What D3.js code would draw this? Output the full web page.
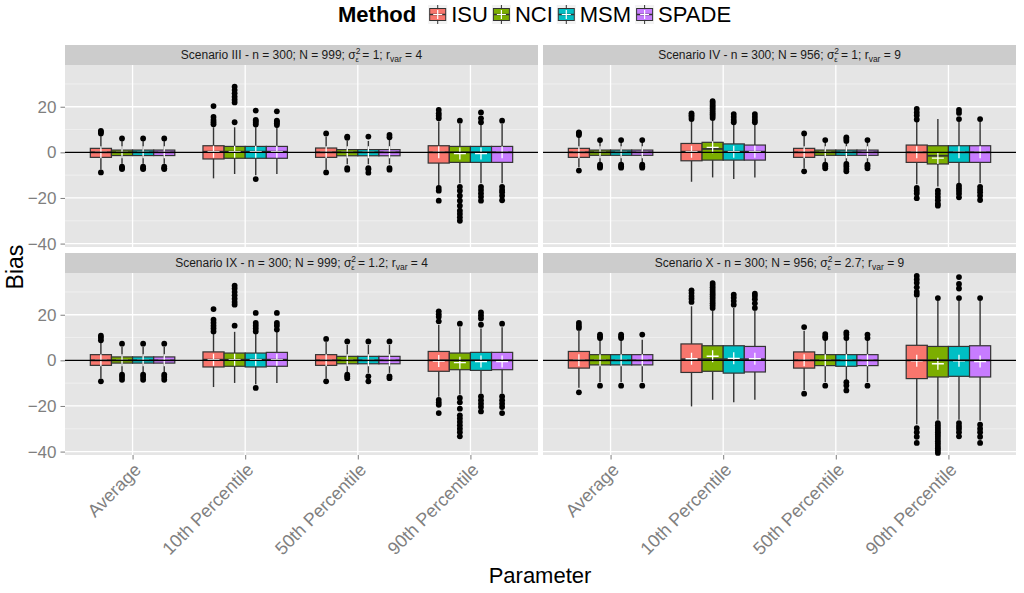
<!DOCTYPE html>
<html>
<head>
<meta charset="utf-8">
<script src="https://cdn.jsdelivr.net/npm/d3@7"></script>
<style>
body { margin: 0; background: #fff; }
text { font-family: "Liberation Sans", Arial, sans-serif; }
</style>
</head>
<body>
<svg id="chart"></svg>
<script>
/* categories */
var params = ["Average", "10th Percentile", "50th Percentile", "90th Percentile"];
var methods = ["ISU", "NCI", "MSM", "SPADE"];
var colors = ["#F8766D", "#7CAE00", "#00BFC4", "#C77CFF"];

/* strip labels */
var scenNames = ["III", "IV", "IX", "X"];
var scenN = ["999", "956", "999", "956"];
var scenSigma = ["1", "1", "1.2", "2.7"];
var scenR = ["4", "9", "4", "9"];

var yTicks = [-40, -20, 0, 20];
var yMinor = [-30, -10, 10, 30];

/* box stats, rows = param x method: [lo, q1, med, q3, hi, mean] */
var boxIII = [
  [-7.5, -2.2, 0, 1.75, 7.5, 0], [-5, -1.4, 0, 1.0, 5, 0], [-5, -1.4, 0, 1.0, 5, 0], [-5, -1.4, 0, 1.0, 5, 0],
  [-11.4, -2.9, 0.3, 2.9, 11, 0.3], [-9.5, -2.6, 0.3, 2.6, 11, 0.3], [-10, -2.6, 0.3, 2.6, 11, 0.3], [-9.5, -2.6, 0.3, 2.6, 11, 0.3],
  [-7.5, -2.2, 0, 1.9, 7, 0], [-5.2, -1.5, 0, 1.2, 5, 0], [-5.2, -1.5, 0, 1.2, 5, 0], [-5.2, -1.5, 0, 1.2, 5.5, 0],
  [-14.5, -4.7, 0, 2.9, 13.5, 0], [-13.5, -4.4, 0, 2.6, 12.5, -0.5], [-13.5, -4.4, 0, 2.6, 12.5, -0.5], [-13.5, -4.4, 0, 2.6, 12.5, 0]
];
var outIII = [
  [8.3, 9.0, 9.4, -8.8], [6.1, -6.3, -6.9, -7.3], [6.1, -6.3, -7.0, -7.3], [6.1, -6.3, -7.0, -7.3],
  [12.3, 13.2, 14.2, 15.5, 20.3], [13.2, 21.9, 23.1, 24.4, 25.9, 27.3, 28.8], [-11.7, 12.2, 13.0, 13.8, 14.2, 18.3], [12.0, 12.8, 13.5, 13.9, 18.0],
  [8.3, -8.8], [6.4, 6.9, -6.9, -7.6], [6.9, -6.9, -7.4, -8.9], [6.6, 7.6, -6.9, -7.6],
  [14.9, 16.1, 17.1, 18.6, -15.6, -16.8, -21.2], [13.9, -15.1, -16.8, -19, -21.2, -23.4, -25.6, -27, -28.5, -30],
  [13.2, 14.9, 17.5, -15.1, -16.5, -18, -19.5, -21.2], [13.9, -15.1, -16.5, -17.5, -19, -21]
];

var boxIV = [
  [-6.5, -2.2, 0, 1.75, 7, 0], [-4.5, -1.3, 0, 1.0, 4.5, 0], [-4.5, -1.3, 0, 1.0, 4.5, 0], [-4.5, -1.3, 0, 1.0, 4.5, 0],
  [-12.9, -3.7, 0.3, 3.9, 13.5, 0.3], [-11, -3.4, 1.5, 4.4, 14.5, 2.2], [-11.7, -3.4, 0.3, 3.7, 12.5, 0.3], [-11, -3.4, 0.3, 3.2, 12.5, 0.3],
  [-7, -2.2, 0, 1.75, 7.3, 0], [-4.5, -1.3, 0, 1.0, 4.5, 0], [-4.5, -1.3, 0, 1.0, 4.5, 0], [-4.5, -1.3, 0, 1.0, 4.5, 0],
  [-14, -4.4, 0, 3.2, 13.5, 0], [-15, -5.1, -1.5, 2.9, 14.6, -2.5], [-13.5, -4.4, 0, 2.9, 13.5, 0], [-13.5, -4.4, 0, 2.9, 13.5, 0]
];
var outIV = [
  [7.6, 8.3, 8.8, -8.0], [5.4, -5.4, -6.1, -6.7], [5.4, -5.4, -6.1, -6.7], [5.4, -5.4, -6.1, -6.7],
  [14.6, 15.5, 16.3, 17.1], [15.1, 15.9, 16.7, 17.5, 18.4, 19.2, 20, 20.8, 21.6, 22.4], [13.2, 14.2, 15.5, 16.8], [13.2, 14.2, 15.5, 16.8],
  [8.3, -8.3], [5.4, -5.4, -6.1, -7.0], [5.0, 5.8, 6.6, -5.1, -6.1, -7.3, -8.3], [5.4, -5.4, -6.1, -7.0],
  [14.4, 16.2, 17.5, 19, -15.6, -16.8, -18, -20.1], [-16.8, -18.2, -19.6, -21, -22.5, -23.4],
  [14.6, 17.3, 18.6, -14.6, -15.8, -17, -18.2, -19.7], [14.6, -15.1, -16.3, -17.5, -19, -20.9]
];

var boxIX = [
  [-8, -2.2, 0, 2.5, 8, 0], [-5.5, -1.2, 0, 1.5, 6, 0], [-5.5, -1.2, 0, 1.5, 6, 0], [-5.5, -1.2, 0, 1.5, 6, 0],
  [-11.7, -2.9, 0.3, 3.7, 12, 0.3], [-9.9, -2.6, 0.3, 3.2, 12.5, 0.3], [-10.5, -2.9, 0.3, 3.2, 12, 0.3], [-9.9, -2.6, 0.3, 3.5, 12.5, 0.3],
  [-8, -2.2, 0, 2.5, 8, 0], [-5.5, -1.5, 0, 1.75, 6.8, 0], [-5.5, -1.5, 0, 1.75, 6.8, 0], [-5.5, -1.5, 0, 1.75, 6.8, 0],
  [-16, -4.8, 0, 3.9, 15.5, -0.3], [-15, -4.1, 0, 3.2, 14.5, -1], [-14.5, -4.4, 0, 3.5, 14, -0.5], [-14.5, -4.1, 0, 3.5, 14.5, -0.5]
];
var outIX = [
  [8.8, 9.9, 10.8, -9.2], [7.3, -6.3, -7.3, -8.5], [7.3, -6.3, -7.3, -8.5], [7.3, -6.3, -7.3, -8.5],
  [12.7, 14, 15.2, 16.5, 17.8, 22.5], [15.2, 24.4, 25.6, 27, 28.5, 30, 31.5, 32.7], [-12.1, 12.7, 14, 15.2, 16.4, 20.8], [13.5, 15.2, 16.4, 20.8],
  [9.4, -9.2], [8.3, -6.3, -7.0, -7.8], [8.3, -7.0, -9.2], [8.3, -7.0, -7.8],
  [17.1, 19.1, 20.2, 21.5, -17.3, -18.5, -19.5, -23.1], [16.1, -16.5, -18.4, -21.2, -24.1, -25.5, -27, -28.5, -30, -31.5, -33.3],
  [15.6, 18.4, 19.7, 21, -15.8, -17.5, -19, -20.5, -22.4], [16.1, -15.8, -17.5, -19, -20.5, -23.1]
];

var boxX = [
  [-12, -3.4, 0, 3.9, 13, 0], [-9.5, -2.0, 0, 2.5, 9, 0], [-9.5, -2.0, 0, 2.5, 9, 0], [-9.5, -2.0, 0, 2.5, 9, 0],
  [-20.2, -5.3, 0.5, 7.2, 23.7, 0.7], [-17.3, -4.8, 0.5, 6.4, 22, 1.8], [-18.4, -5.6, 0.5, 6.4, 23, 0.9], [-17.3, -5.1, 0.5, 6.1, 22, 0.7],
  [-13, -3.4, 0, 3.7, 13, 0], [-9.5, -2.3, 0, 2.5, 9, 0], [-9, -2.6, 0, 2.5, 9, 0], [-9.5, -2.3, 0, 2.5, 9, 0],
  [-28, -8.0, 0, 6.6, 27.5, -0.2], [-26, -7.3, 0, 6.1, 26, -1.5], [-26, -7.0, 0, 6.1, 26, -0.2], [-26.5, -7.3, 0, 6.4, 26, -0.5]
];
var outX = [
  [14.2, 15.2, 16.4, -14], [9.8, 10.5, 11.3, -11.1], [9.8, 10.5, 11.3, -11.1], [11.3, -11.1],
  [25.6, 27, 28.2, 29.5, 30.7], [23, 24, 25, 26, 27, 28, 29, 30, 31, 32, 33, 33.9], [24.4, 26, 27.5, 28.8], [23, 25, 26.8, 28.2, 29.2],
  [14.6, -14.6], [9.8, 10.5, 11.5, -11.1], [9.8, 11.3, 12.3, -9.6, -11, -13.2], [9.8, 11.3, -11.1],
  [28.8, 30, 32, 34, 35.5, 37, -29.7, -31.5, -33.5, -36.2],
  [27.3, -27.5, -28.5, -29.5, -30.5, -31.5, -32.5, -33.5, -34.5, -35.5, -36.5, -37.5, -38.5, -39.5, -40.6],
  [27.3, 31.5, 33.5, 36.5, -27.5, -28.8, -30, -31.5, -33.3], [27.3, -28.2, -30, -31.5, -33.5, -36.2]
];

var boxes = [boxIII, boxIV, boxIX, boxX];
var outs = [outIII, outIV, outIX, outX];

/* layout */
var W = 1024, H = 593;
var pw = 473, ph = 182, stripH = 20;
var panels = [
  {s: 0, x0: 65, y0: 65, left: true, bottom: false},
  {s: 1, x0: 543, y0: 65, left: false, bottom: false},
  {s: 2, x0: 65, y0: 273, left: true, bottom: true},
  {s: 3, x0: 543, y0: 273, left: false, bottom: true}
];

var svg = d3.select("#chart").attr("width", W).attr("height", H);

var x = d3.scalePoint().domain(params).range([0, pw]).padding(0.6);
var dodge = d3.scaleBand().domain(methods).range([-0.375 * x.step(), 0.375 * x.step()]);
var y = d3.scaleLinear().domain([-41.5, 38.3]).range([ph, 0]);
var color = d3.scaleOrdinal().domain(methods).range(colors);
var bw = dodge.bandwidth();

panels.forEach(function(p) {
  var g = svg.append("g").attr("transform", "translate(" + p.x0 + "," + p.y0 + ")");

  // strip
  g.append("rect").attr("x", 0).attr("y", -stripH).attr("width", pw).attr("height", stripH).attr("fill", "#CCCCCC");
  var t = g.append("text").attr("x", pw / 2).attr("y", -6).attr("text-anchor", "middle")
      .style("font-size", "12px").attr("fill", "#1A1A1A");
  t.append("tspan").text("Scenario " + scenNames[p.s] + " - n = 300; N = " + scenN[p.s] + "; \u03C3");
  t.append("tspan").attr("dy", -5).style("font-size", "8.5px").text("2");
  t.append("tspan").attr("dx", -4.8).attr("dy", 8).style("font-size", "7.5px").text("\u03B5");
  t.append("tspan").attr("dy", -3).text(" = " + scenSigma[p.s] + "; r");
  t.append("tspan").attr("dy", 3).style("font-size", "8.5px").text("var");
  t.append("tspan").attr("dy", -3).text(" = " + scenR[p.s]);

  // panel background + grid
  g.append("rect").attr("width", pw).attr("height", ph).attr("fill", "#E5E5E5");
  g.selectAll(".minor").data(yMinor).enter().append("line")
      .attr("x1", 0).attr("x2", pw)
      .attr("y1", function(d) { return y(d); }).attr("y2", function(d) { return y(d); })
      .attr("stroke", "#F2F2F2").attr("stroke-width", 0.8);
  g.selectAll(".major").data(yTicks).enter().append("line")
      .attr("x1", 0).attr("x2", pw)
      .attr("y1", function(d) { return y(d); }).attr("y2", function(d) { return y(d); })
      .attr("stroke", "#FFFFFF").attr("stroke-width", 1.3);
  g.selectAll(".vmajor").data(params).enter().append("line")
      .attr("x1", function(d) { return x(d); }).attr("x2", function(d) { return x(d); })
      .attr("y1", 0).attr("y2", ph)
      .attr("stroke", "#FFFFFF").attr("stroke-width", 1.3);

  // boxes
  var rows = [];
  params.forEach(function(par, i) {
    methods.forEach(function(m, j) {
      var b = boxes[p.s][i * 4 + j];
      rows.push({par: par, m: m, lo: b[0], q1: b[1], med: b[2], q3: b[3], hi: b[4], mean: b[5], out: outs[p.s][i * 4 + j]});
    });
  });
  var cx = function(d) { return x(d.par) + dodge(d.m) + bw / 2; };

  var bx = g.selectAll(".box").data(rows).enter().append("g").attr("class", "box");
  bx.append("line").attr("x1", cx).attr("x2", cx)
      .attr("y1", function(d) { return y(d.hi); }).attr("y2", function(d) { return y(d.q3); })
      .attr("stroke", "#333333").attr("stroke-width", 1.4);
  bx.append("line").attr("x1", cx).attr("x2", cx)
      .attr("y1", function(d) { return y(d.q1); }).attr("y2", function(d) { return y(d.lo); })
      .attr("stroke", "#333333").attr("stroke-width", 1.4);
  bx.selectAll("circle").data(function(d) { return d.out.map(function(v) { return {v: v, cx: cx(d)}; }); })
    .enter().append("circle")
      .attr("cx", function(d) { return d.cx; }).attr("cy", function(d) { return y(d.v); })
      .attr("r", 2.9).attr("fill", "#000");
  bx.append("rect")
      .attr("x", function(d) { return x(d.par) + dodge(d.m); })
      .attr("y", function(d) { return y(d.q3); })
      .attr("width", bw)
      .attr("height", function(d) { return y(d.q1) - y(d.q3); })
      .attr("fill", function(d) { return color(d.m); })
      .attr("stroke", "#333333").attr("stroke-width", 1.2);
  bx.append("line")
      .attr("x1", function(d) { return x(d.par) + dodge(d.m); })
      .attr("x2", function(d) { return x(d.par) + dodge(d.m) + bw; })
      .attr("y1", function(d) { return y(d.med); }).attr("y2", function(d) { return y(d.med); })
      .attr("stroke", "#333333").attr("stroke-width", 1.8);

  // zero reference line
  g.append("line").attr("x1", 0).attr("x2", pw).attr("y1", y(0)).attr("y2", y(0))
      .attr("stroke", "#000").attr("stroke-width", 1.3);

  // means
  bx.append("path")
      .attr("d", function(d) { var c = cx(d), m = y(d.mean); return "M" + (c - 6) + "," + m + "H" + (c + 6) + "M" + c + "," + (m - 6) + "V" + (m + 6); })
      .attr("stroke", "#FFFFFF").attr("stroke-width", 1.3).attr("fill", "none");

  // axes
  if (p.left) {
    var ya = g.append("g").call(d3.axisLeft(y).tickValues(yTicks).tickSize(4.5).tickPadding(4));
    ya.select(".domain").remove();
    ya.selectAll(".tick line").attr("stroke", "#7F7F7F");
    ya.selectAll(".tick text").attr("fill", "#7F7F7F").style("font-size", "17px");
  }
  if (p.bottom) {
    var xa = g.append("g").attr("transform", "translate(0," + ph + ")")
        .call(d3.axisBottom(x).tickSize(4.5));
    xa.select(".domain").remove();
    xa.selectAll(".tick line").attr("stroke", "#7F7F7F");
    xa.selectAll(".tick text")
        .attr("fill", "#7F7F7F").style("font-size", "18px")
        .attr("text-anchor", "end")
        .attr("x", 0).attr("y", 0).attr("dy", 0)
        .attr("transform", "translate(9,16) rotate(-45)");
  }
});

// axis titles
svg.append("text").attr("x", 540).attr("y", 583).attr("text-anchor", "middle")
    .style("font-size", "22px").attr("fill", "#000").text("Parameter");
svg.append("text").attr("transform", "translate(23,267) rotate(-90)").attr("text-anchor", "middle")
    .style("font-size", "23px").attr("fill", "#000").text("Bias");

// legend
var leg = svg.append("g");
var lt = leg.append("text").attr("x", 338).attr("y", 22).style("font-size", "22px").style("font-weight", "bold").text("Method");
var lx = 338 + lt.node().getComputedTextLength() + 12;
methods.forEach(function(m, j) {
  var k = leg.append("g").attr("transform", "translate(" + lx + ",5)");
  k.append("rect").attr("width", 19).attr("height", 19).attr("fill", "#F2F2F2");
  k.append("line").attr("x1", 9.5).attr("x2", 9.5).attr("y1", 0).attr("y2", 19).attr("stroke", "#333333");
  k.append("rect").attr("x", 1.5).attr("y", 3.5).attr("width", 16).attr("height", 12)
      .attr("fill", color(m)).attr("stroke", "#333333").attr("stroke-width", 1);
  k.append("line").attr("x1", 1.5).attr("x2", 17.5).attr("y1", 9.5).attr("y2", 9.5).attr("stroke", "#333333").attr("stroke-width", 1.5);
  k.append("path").attr("d", "M5,9.5H14M9.5,5V14").attr("stroke", "#FFFFFF").attr("stroke-width", 1.2);
  var tx = leg.append("text").attr("x", lx + 23).attr("y", 22).style("font-size", "22px").text(m);
  lx = lx + 23 + tx.node().getComputedTextLength() + 4;
});
</script>
</body>
</html>
